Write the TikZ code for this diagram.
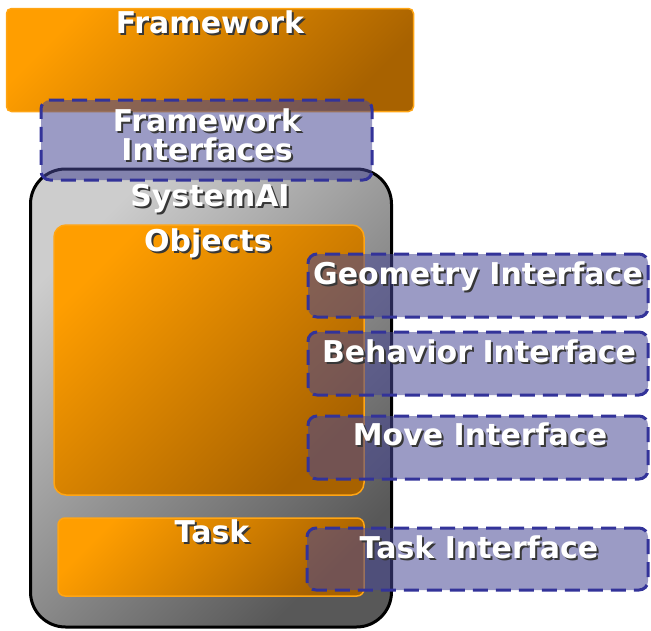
\documentclass[tikz,border=0pt]{standalone}
\usepackage{fontspec}
\setmainfont{DejaVu Sans}
\definecolor{orA}{RGB}{255,158,0}
\definecolor{orB}{RGB}{168,98,0}
\definecolor{orLine}{RGB}{255,165,20}
\definecolor{grA}{RGB}{205,205,205}
\definecolor{grB}{RGB}{88,88,88}
\definecolor{ifFill}{RGB}{72,72,150}
\definecolor{ifLine}{RGB}{51,51,153}
\definecolor{shadowc}{RGB}{55,55,55}
\tikzset{
  orangebox/.style={draw=orLine, line width=1.5pt, inner sep=0pt,
    top color=orA, bottom color=orB, shading angle=45},
  sysbox/.style={draw=black, line width=3pt, inner sep=0pt, rounded corners=35pt,
    top color=grA, bottom color=grB, shading angle=45},
  ifbox/.style={draw=ifLine, line width=3pt, dash pattern=on 15pt off 8pt,
    rounded corners=9pt, inner sep=0pt, fill=ifFill, fill opacity=0.55, draw opacity=1},
  lbl/.style={anchor=base, inner sep=0pt, text=white,
    font=\bfseries\fontsize{30}{34}\selectfont},
}
\newcommand{\shtxt}[1]{\makebox[0pt][l]{\hspace{2pt}\raisebox{-2pt}{\textcolor{shadowc}{#1}}}#1}
\begin{document}
\begin{tikzpicture}[x=1pt,y=-1pt]
\useasboundingbox (0,0) rectangle (651,630);
% boxes
\node[orangebox, rounded corners=5pt, minimum width=407pt, minimum height=103pt] (fw) at (210,60) {};
\node[sysbox, minimum width=361pt, minimum height=458pt] (sys) at (211,398) {};
\node[orangebox, rounded corners=12pt, minimum width=310pt, minimum height=270pt] (obj) at (209,360) {};
\node[orangebox, rounded corners=7pt, minimum width=306pt, minimum height=78pt] (task) at (211,557) {};
\node[ifbox, minimum width=331pt, minimum height=80pt] (fwi) at (206.5,140) {};
\node[ifbox, minimum width=340pt, minimum height=63pt] (geo) at (478,285.5) {};
\node[ifbox, minimum width=340pt, minimum height=63pt] (beh) at (478,363.5) {};
\node[ifbox, minimum width=340pt, minimum height=63pt] (mov) at (478,447.5) {};
\node[ifbox, minimum width=341pt, minimum height=62pt] (tski) at (477.5,559) {};
% labels
\node[lbl] (tfw) at (210,33) {\shtxt{Framework}};
\node[lbl] (tfwi1) at (207,131) {\shtxt{Framework}};
\node[lbl] (tfwi2) at (207,160) {\shtxt{Interfaces}};
\node[lbl] (tsys) at (210,206) {\shtxt{SystemAI}};
\node[lbl] (tobj) at (208,251) {\shtxt{Objects}};
\node[lbl] (tgeo) at (478,284) {\shtxt{Geometry Interface}};
\node[lbl] (tbeh) at (479,362) {\shtxt{Behavior Interface}};
\node[lbl] (tmov) at (480,445) {\shtxt{Move Interface}};
\node[lbl] (ttask) at (212,542) {\shtxt{Task}};
\node[lbl] (ttski) at (479,558) {\shtxt{Task Interface}};
\end{tikzpicture}
\end{document}
